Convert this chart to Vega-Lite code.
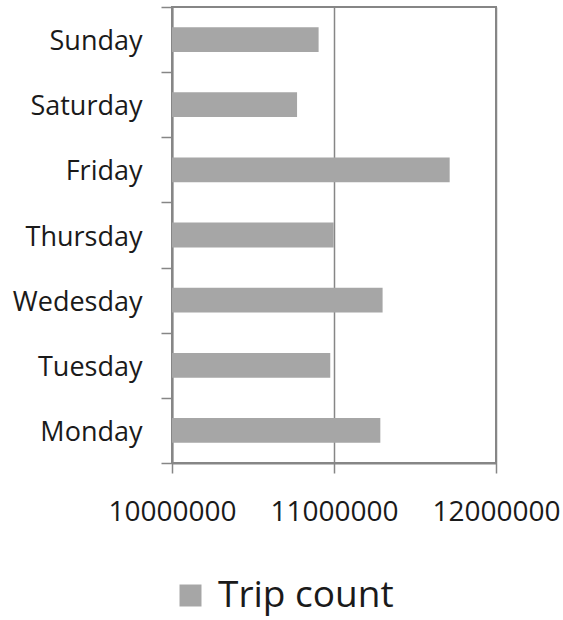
{
  "$schema": "https://vega.github.io/schema/vega-lite/v6.json",
  "width": 324,
  "height": 456,
  "autosize": "none",
  "padding": {"left": 172, "top": 7, "right": 67, "bottom": 157},
  "background": "white",
  "data": {
    "values": [
      {"day": "Sunday", "trips": 10905000, "series": "Trip count"},
      {"day": "Saturday", "trips": 10772000, "series": "Trip count"},
      {"day": "Friday", "trips": 11714000, "series": "Trip count"},
      {"day": "Thursday", "trips": 10998000, "series": "Trip count"},
      {"day": "Wedesday", "trips": 11300000, "series": "Trip count"},
      {"day": "Tuesday", "trips": 10977000, "series": "Trip count"},
      {"day": "Monday", "trips": 11286000, "series": "Trip count"}
    ]
  },
  "mark": {"type": "bar", "height": {"band": 0.38}},
  "encoding": {
    "y": {
      "field": "day",
      "type": "nominal",
      "sort": ["Sunday", "Saturday", "Friday", "Thursday", "Wedesday", "Tuesday", "Monday"],
      "scale": {"paddingInner": 0, "paddingOuter": 0},
      "axis": {
        "title": null,
        "tickBand": "extent",
        "tickSize": 11,
        "tickColor": "#868686",
        "tickWidth": 1.5,
        "domainColor": "#868686",
        "domainWidth": 2,
        "labelFont": "Open Sans",
        "labelFontSize": 27,
        "labelColor": "#1a1a1a",
        "labelPadding": 19,
        "labelOffset": 2,
        "grid": false
      }
    },
    "x": {
      "field": "trips",
      "type": "quantitative",
      "scale": {"domain": [10000000, 12000000], "zero": false, "nice": false},
      "axis": {
        "title": null,
        "values": [10000000, 11000000, 12000000],
        "format": "d",
        "tickSize": 10,
        "tickColor": "#868686",
        "tickWidth": 1.5,
        "domainColor": "#868686",
        "domainWidth": 2,
        "grid": true,
        "gridColor": "#868686",
        "gridWidth": 1.5,
        "labelFont": "Open Sans",
        "labelFontSize": 28,
        "labelColor": "#1a1a1a",
        "labelPadding": 25
      }
    },
    "x2": {"datum": 10000000},
    "color": {
      "field": "series",
      "type": "nominal",
      "scale": {"range": ["#a6a6a6"]},
      "legend": {
        "title": null,
        "orient": "none",
        "legendX": 0,
        "legendY": 570,
        "symbolType": "square",
        "symbolSize": 484,
        "symbolStrokeWidth": 0,
        "labelFont": "Open Sans",
        "labelFontSize": 37,
        "labelColor": "#1a1a1a",
        "labelOffset": 9,
        "labelLimit": 0,
        "padding": 0
      }
    }
  },
  "config": {
    "view": {"stroke": "#868686", "strokeWidth": 2},
    "axis": {"labelFlush": false, "labelOverlap": false}
  }
}
